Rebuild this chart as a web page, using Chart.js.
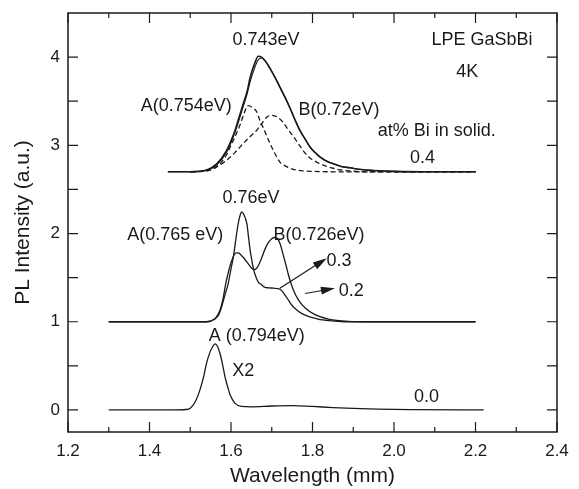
<!DOCTYPE html>
<html>
<head>
<meta charset="utf-8">
<script src="https://cdn.jsdelivr.net/npm/chart.js@4"></script>
<style>
  body { margin: 0; background: #fff; }
</style>
</head>
<body>
<canvas id="myChart" width="579" height="489"></canvas>
<script>
// spectra (wavelength, intensity)
const wl00 = [1.30, 1.45, 1.49, 1.50, 1.512, 1.524, 1.533, 1.54, 1.548, 1.553, 1.561, 1.567, 1.573, 1.58, 1.585, 1.592, 1.598, 1.61, 1.626, 1.65, 1.70, 1.75, 1.80, 1.85, 1.90, 1.96, 2.05, 2.22];
const pl00 = [0, 0, 0.005, 0.02, 0.09, 0.23, 0.38, 0.53, 0.65, 0.70, 0.75, 0.72, 0.64, 0.50, 0.38, 0.26, 0.17, 0.075, 0.04, 0.035, 0.045, 0.05, 0.04, 0.027, 0.017, 0.009, 0.004, 0];

const wl02 = [1.30, 1.54, 1.56, 1.57, 1.577, 1.585, 1.593, 1.60, 1.606, 1.612, 1.618, 1.622, 1.626, 1.631, 1.639, 1.643, 1.647, 1.651, 1.655, 1.661, 1.667, 1.675, 1.683, 1.692, 1.705, 1.716, 1.725, 1.733, 1.741, 1.749, 1.76, 1.773, 1.79, 1.806, 1.825, 1.847, 1.88, 1.95, 2.2];
const pl02 = [1, 1, 1.03, 1.08, 1.17, 1.30, 1.43, 1.60, 1.74, 1.94, 2.12, 2.20, 2.245, 2.22, 2.11, 1.96, 1.81, 1.70, 1.60, 1.51, 1.45, 1.42, 1.39, 1.385, 1.38, 1.375, 1.35, 1.30, 1.245, 1.19, 1.14, 1.095, 1.06, 1.04, 1.02, 1.01, 1.0, 1.0, 1.0];

const wl03 = [1.30, 1.54, 1.56, 1.565, 1.573, 1.58, 1.587, 1.593, 1.598, 1.604, 1.608, 1.613, 1.618, 1.624, 1.632, 1.642, 1.65, 1.657, 1.665, 1.675, 1.685, 1.692, 1.70, 1.706, 1.712, 1.72, 1.728, 1.735, 1.741, 1.747, 1.753, 1.765, 1.782, 1.806, 1.839, 1.888, 1.95, 2.2];
const pl03 = [1, 1, 1.03, 1.06, 1.13, 1.25, 1.43, 1.55, 1.64, 1.72, 1.76, 1.78, 1.78, 1.76, 1.72, 1.66, 1.61, 1.59, 1.62, 1.72, 1.84, 1.90, 1.94, 1.955, 1.95, 1.89, 1.76, 1.64, 1.53, 1.44, 1.36, 1.25, 1.155, 1.08, 1.03, 1.005, 1.0, 1.0];

const wl04 = [1.445, 1.50, 1.54, 1.565, 1.589, 1.60, 1.61, 1.62, 1.63, 1.64, 1.647, 1.659, 1.667, 1.675, 1.685, 1.696, 1.708, 1.72, 1.733, 1.745, 1.757, 1.769, 1.782, 1.794, 1.806, 1.818, 1.835, 1.851, 1.87, 1.892, 1.92, 1.95, 2.0, 2.1, 2.2];
const pl04 = [2.70, 2.70, 2.72, 2.79, 2.94, 3.05, 3.17, 3.32, 3.47, 3.62, 3.77, 3.94, 4.01, 4.0, 3.95, 3.87, 3.77, 3.66, 3.54, 3.42, 3.29, 3.17, 3.07, 2.98, 2.92, 2.87, 2.82, 2.79, 2.76, 2.745, 2.725, 2.715, 2.705, 2.70, 2.70];
const fit04 = [2.70, 2.70, 2.715, 2.78, 2.92, 3.03, 3.15, 3.29, 3.44, 3.59, 3.72, 3.89, 3.97, 3.99, 3.95, 3.87, 3.77, 3.66, 3.54, 3.42, 3.29, 3.17, 3.07, 2.98, 2.92, 2.87, 2.82, 2.79, 2.76, 2.745, 2.725, 2.715, 2.705, 2.70, 2.70];

const wlA = [1.50, 1.54, 1.565, 1.589, 1.598, 1.61, 1.622, 1.632, 1.642, 1.652, 1.663, 1.671, 1.679, 1.688, 1.696, 1.704, 1.712, 1.72, 1.732, 1.745, 1.76, 1.777, 1.80, 1.85, 1.95, 2.2];
const plA = [2.70, 2.71, 2.76, 2.89, 2.98, 3.10, 3.23, 3.36, 3.45, 3.43, 3.38, 3.28, 3.20, 3.10, 3.02, 2.94, 2.87, 2.81, 2.77, 2.74, 2.72, 2.71, 2.705, 2.70, 2.70, 2.70];

const wlB = [1.50, 1.548, 1.57, 1.589, 1.61, 1.63, 1.647, 1.663, 1.676, 1.688, 1.70, 1.714, 1.728, 1.74, 1.753, 1.765, 1.777, 1.79, 1.81, 1.83, 1.851, 1.87, 1.892, 1.93, 2.0, 2.2];
const plB = [2.70, 2.72, 2.77, 2.83, 2.92, 3.02, 3.10, 3.17, 3.25, 3.32, 3.34, 3.32, 3.26, 3.18, 3.10, 3.02, 2.94, 2.87, 2.81, 2.77, 2.74, 2.72, 2.71, 2.70, 2.70, 2.70];

// axis ticks
const xMajor = [1.2, 1.4, 1.6, 1.8, 2.0, 2.2, 2.4];
const xMinor = [1.3, 1.5, 1.7, 1.9, 2.1, 2.3];
const yTicks = [0, 0.5, 1, 1.5, 2, 2.5, 3, 3.5, 4];

// labels in the plot, placed in data units
const noteText = ["0.743eV", "LPE GaSbBi", "4K", "A(0.754eV)", "B(0.72eV)", "at% Bi in solid.", "0.4",
                  "0.76eV", "A(0.765 eV)", "B(0.726eV)", "0.3", "0.2", "A (0.794eV)", "X2", "0.0"];
const noteX = [1.686, 2.216, 2.18, 1.49, 1.865, 2.105, 2.07, 1.649, 1.463, 1.816, 1.865, 1.895, 1.663, 1.63, 2.08];
const noteY = [4.19, 4.19, 3.83, 3.45, 3.40, 3.16, 2.86, 2.40, 1.98, 1.98, 1.69, 1.35, 0.84, 0.44, 0.15];

const arrowFrom = [[1.72, 1.38], [1.782, 1.32]];
const arrowTo = [[1.835, 1.72], [1.855, 1.38]];

const pts = (xs, ys) => xs.map((x, i) => ({ x: x, y: ys[i] }));

const ink = "#1a1a1a";
function line(data, dashed, width) {
  return {
    data: data,
    borderColor: ink,
    borderWidth: width || 1.3,
    borderDash: dashed ? [5, 3] : [],
    pointRadius: 0,
    fill: false,
    cubicInterpolationMode: "monotone",
  };
}

const frame = {
  id: "frame",
  afterDatasetsDraw(chart) {
    const ctx = chart.ctx;
    const xs = chart.scales.x, ys = chart.scales.y;
    const a = chart.chartArea;
    ctx.save();
    ctx.strokeStyle = ink;
    ctx.lineWidth = 1.5;
    ctx.strokeRect(a.left, a.top, a.right - a.left, a.bottom - a.top);
    ctx.lineWidth = 1.2;
    ctx.beginPath();
    const xTick = (v, len) => {
      const p = xs.getPixelForValue(v);
      ctx.moveTo(p, a.bottom); ctx.lineTo(p, a.bottom - len);
      ctx.moveTo(p, a.top); ctx.lineTo(p, a.top + len);
    };
    xMajor.forEach(v => xTick(v, 10));
    xMinor.forEach(v => xTick(v, 5));
    yTicks.forEach(v => {
      const p = ys.getPixelForValue(v);
      ctx.moveTo(a.left, p); ctx.lineTo(a.left + 10, p);
      ctx.moveTo(a.right, p); ctx.lineTo(a.right - 10, p);
    });
    ctx.stroke();

    // arrows
    ctx.fillStyle = ink;
    arrowFrom.forEach((f, i) => {
      const x1 = xs.getPixelForValue(f[0]), y1 = ys.getPixelForValue(f[1]);
      const x2 = xs.getPixelForValue(arrowTo[i][0]), y2 = ys.getPixelForValue(arrowTo[i][1]);
      const ang = Math.atan2(y2 - y1, x2 - x1);
      ctx.beginPath();
      ctx.moveTo(x1, y1); ctx.lineTo(x2 - 10 * Math.cos(ang), y2 - 10 * Math.sin(ang));
      ctx.stroke();
      ctx.beginPath();
      ctx.moveTo(x2, y2);
      ctx.lineTo(x2 - 14 * Math.cos(ang) + 4 * Math.sin(ang), y2 - 14 * Math.sin(ang) - 4 * Math.cos(ang));
      ctx.lineTo(x2 - 14 * Math.cos(ang) - 4 * Math.sin(ang), y2 - 14 * Math.sin(ang) + 4 * Math.cos(ang));
      ctx.closePath();
      ctx.fill();
    });

    // text notes
    ctx.font = "18px 'Liberation Sans', Arial, sans-serif";
    ctx.textAlign = "center";
    ctx.textBaseline = "middle";
    noteText.forEach((t, i) => {
      ctx.fillText(t, xs.getPixelForValue(noteX[i]), ys.getPixelForValue(noteY[i]));
    });
    ctx.restore();
  }
};

const tickFont = { family: "'Liberation Sans', Arial, sans-serif", size: 17 };
const titleFont = { family: "'Liberation Sans', Arial, sans-serif", size: 21 };

new Chart("myChart", {
  type: "line",
  data: {
    datasets: [
      line(pts(wl00, pl00)),
      line(pts(wl02, pl02)),
      line(pts(wl03, pl03)),
      line(pts(wl04, fit04), false, 1.1),
      line(pts(wl04, pl04), false, 1.6),
      line(pts(wlA, plA), true),
      line(pts(wlB, plB), true),
    ],
  },
  options: {
    responsive: false,
    animation: false,
    layout: { padding: { top: 13, right: 22, left: 0, bottom: 0 } },
    plugins: { legend: { display: false }, tooltip: { enabled: false } },
    scales: {
      x: {
        type: "linear",
        min: 1.2,
        max: 2.4,
        afterFit: (s) => { s.height = 57; s.paddingLeft = 0; s.paddingRight = 0; },
        afterBuildTicks: (s) => { s.ticks = xMajor.map(v => ({ value: v })); },
        grid: { display: false, drawTicks: false },
        border: { display: false },
        ticks: { color: ink, font: tickFont, padding: 9, maxRotation: 0, callback: (v) => v.toFixed(1) },
        title: { display: true, text: "Wavelength (mm)", color: ink, font: titleFont, padding: 0 },
      },
      y: {
        min: -0.25,
        max: 4.5,
        afterFit: (s) => { s.width = 68; s.paddingTop = 0; s.paddingBottom = 0; },
        grid: { display: false, drawTicks: false },
        border: { display: false },
        ticks: { color: ink, font: tickFont, padding: 8, stepSize: 1, includeBounds: false },
        title: { display: true, text: "PL Intensity (a.u.)", color: ink, font: titleFont, padding: { top: 11, bottom: 11 } },
      },
    },
  },
  plugins: [frame],
});
</script>
</body>
</html>
